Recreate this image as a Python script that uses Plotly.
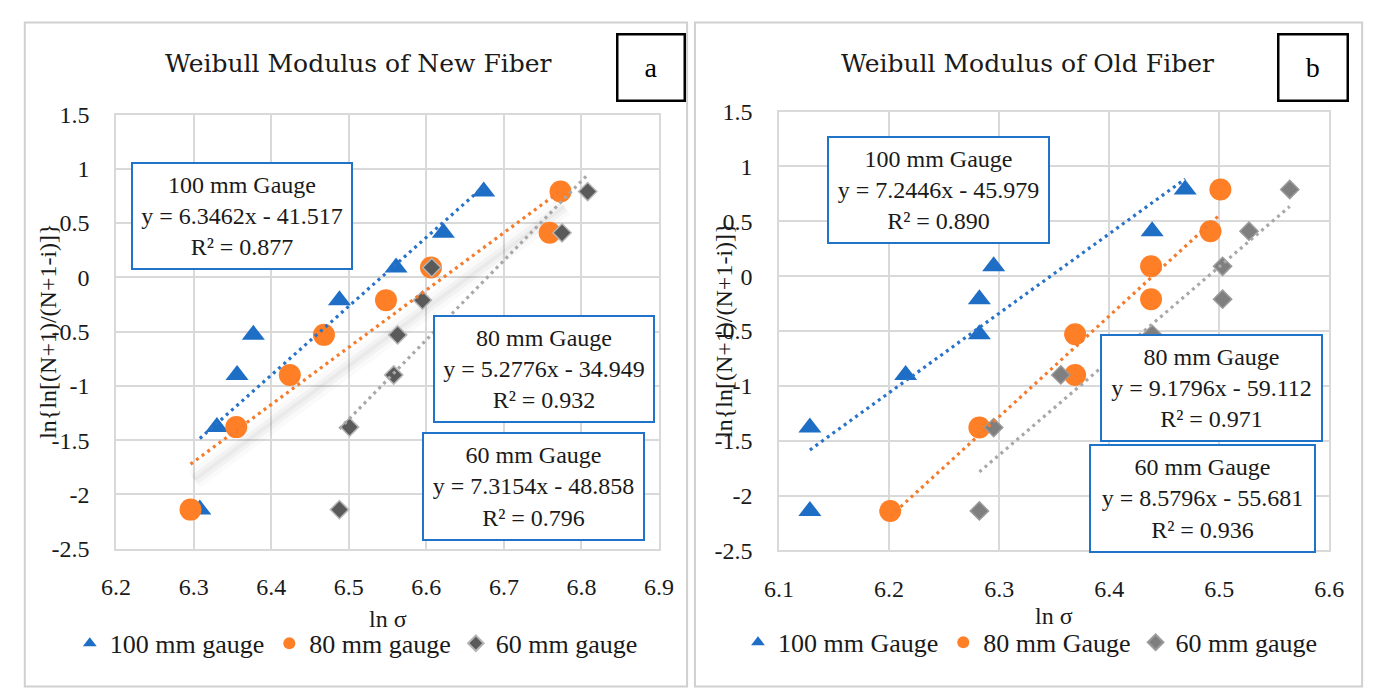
import plotly.graph_objects as go

# ---------------- data ----------------
RANK_Y = [-2.14, -1.38, -0.90, -0.53, -0.21, 0.09, 0.41, 0.79]

NEW_100_X = [6.308, 6.330, 6.356, 6.377, 6.488, 6.561, 6.622, 6.674]
NEW_80_X = [6.296, 6.355, 6.424, 6.468, 6.548, 6.606, 6.759, 6.773]
NEW_60_X = [6.488, 6.501, 6.558, 6.563, 6.595, 6.607, 6.775, 6.808]

OLD_100_X = [6.128, 6.128, 6.215, 6.282, 6.282, 6.295, 6.439, 6.469]
OLD_80_X = [6.201, 6.282, 6.369, 6.369, 6.438, 6.438, 6.492, 6.501]
OLD_60_X = [6.282, 6.295, 6.356, 6.439, 6.503, 6.503, 6.527, 6.564]

# trendline coefficients (slope, intercept, R²) as printed in the chart
NEW_FIT = {"100": (6.3462, -41.517, "0.877"), "80": (5.2776, -34.949, "0.932"), "60": (7.3154, -48.858, "0.796")}
OLD_FIT = {"100": (7.2446, -45.979, "0.890"), "80": (9.1796, -59.112, "0.971"), "60": (8.5796, -55.681, "0.936")}

NEW_NAMES = ["100 mm gauge", "80 mm gauge", "60 mm gauge"]
OLD_NAMES = ["100 mm Gauge", "80 mm Gauge", "60 mm gauge"]

Y_TICKS = [-2.5, -2, -1.5, -1, -0.5, 0, 0.5, 1, 1.5]
Y_TICK_TEXT = ["-2.5", "-2", "-1.5", "-1", "-0.5", "0", "0.5", "1", "1.5"]
NEW_X_TICKS = [6.2, 6.3, 6.4, 6.5, 6.6, 6.7, 6.8, 6.9]
NEW_X_TICK_TEXT = ["6.2", "6.3", "6.4", "6.5", "6.6", "6.7", "6.8", "6.9"]
OLD_X_TICKS = [6.1, 6.2, 6.3, 6.4, 6.5, 6.6]
OLD_X_TICK_TEXT = ["6.1", "6.2", "6.3", "6.4", "6.5", "6.6"]

TITLES = ["Weibull Modulus of New Fiber", "Weibull Modulus of Old Fiber"]
PANEL_TAGS = ["a", "b"]
X_TITLE = "ln σ"
Y_TITLE = "ln{ln[(N+1)/(N+1-i)]}"

# ---------------- styling ----------------
W, H = 1383, 689
BLUE = "#1E6EC6"
ORANGE = "#FF7F27"
BLUE_LINE = "#2873C9"
ORANGE_LINE = "#F57B2C"
GRAY_LINE = "#A8A8A8"
GRID = "#D9D9D9"
BOX = "#1F74C9"
TXT = "#1A1A1A"
SERIF = "Liberation Serif"


def px(x):
    return x / W


def py(y):
    return 1 - y / H


fig = go.Figure()


def add_panel(xs_list, fits, names, xa, ya, legend, diamond_color, diamond_line, shadow=False):
    keys = ["100", "80", "60"]
    if shadow:
        m, b, _ = fits["80"]
        x0, x1 = min(xs_list[1]) + 0.005, max(xs_list[1]) + 0.005
        for wdt, op in [(20, 0.02), (11, 0.03), (4, 0.03)]:
            fig.add_trace(go.Scatter(
                x=[x0, x1], y=[m * x0 + b - 0.17, m * x1 + b - 0.17], mode="lines",
                line=dict(color=f"rgba(0,0,0,{op})", width=wdt), showlegend=False,
                hoverinfo="skip", xaxis=xa, yaxis=ya))
    specs = [
        dict(symbol="triangle-up", size=20, color=BLUE, line=dict(width=0)),
        dict(symbol="circle", size=22, color=ORANGE, line=dict(width=0)),
        dict(symbol="diamond", size=14, color=diamond_color, line=dict(width=1.5, color=diamond_line)),
    ]
    for xs, nm, mk in zip(xs_list, names, specs):
        fig.add_trace(go.Scatter(x=xs, y=RANK_Y, mode="markers", name=nm, marker=mk,
                                 xaxis=xa, yaxis=ya, legend=legend))
    for xs, k, col in zip(xs_list, keys, [BLUE_LINE, ORANGE_LINE, GRAY_LINE]):
        m, b, _ = fits[k]
        x0, x1 = min(xs), max(xs)
        fig.add_trace(go.Scatter(x=[x0, x1], y=[m * x0 + b, m * x1 + b], mode="lines",
                                 line=dict(color=col, width=3.2, dash="3px,4px"),
                                 showlegend=False, hoverinfo="skip", xaxis=xa, yaxis=ya))


add_panel([NEW_100_X, NEW_80_X, NEW_60_X], NEW_FIT, NEW_NAMES, "x", "y", "legend",
          "#5A5A5A", "#B5B5B5", shadow=True)
add_panel([OLD_100_X, OLD_80_X, OLD_60_X], OLD_FIT, OLD_NAMES, "x2", "y2", "legend2",
          "#7F7F7F", "#9A9A9A")


def axis(domain, rng, tv, tt, anchor, standoff):
    return dict(domain=domain, range=rng, tickvals=tv, ticktext=tt, showgrid=True,
                gridcolor=GRID, gridwidth=1.5, showline=True, mirror=True, linecolor=GRID,
                linewidth=1.5, zeroline=False, ticks="", anchor=anchor,
                ticklabelstandoff=standoff, tickfont=dict(family=SERIF, size=24, color=TXT))


leg_common = dict(orientation="h", font=dict(family=SERIF, size=26, color=TXT),
                  itemsizing="constant", bgcolor="rgba(0,0,0,0)", yanchor="middle",
                  xanchor="left", itemwidth=30, tracegroupgap=0)

fig.update_layout(
    width=W, height=H, margin=dict(l=0, r=0, t=0, b=0),
    paper_bgcolor="white", plot_bgcolor="white",
    font=dict(family=SERIF, size=24, color=TXT),
    xaxis=axis([px(103.3), px(658.3)], [6.2, 6.9], NEW_X_TICKS, NEW_X_TICK_TEXT, "y", 16),
    yaxis=axis([py(556.7), py(105.5)], [-2.5, 1.5], Y_TICKS, Y_TICK_TEXT, "x", 20),
    xaxis2=axis([px(781), px(1343.5)], [6.1, 6.6], OLD_X_TICKS, OLD_X_TICK_TEXT, "y2", 16),
    yaxis2=axis([py(558.5), py(102.5)], [-2.5, 1.5], Y_TICKS, Y_TICK_TEXT, "x2", 20),
    legend=dict(x=px(56), y=py(655), **leg_common),
    legend2=dict(x=px(739), y=py(654), **leg_common),
    showlegend=True,
)

# panel frames (bottom edge lies outside the picture)
for x0, x1 in [(10, 687), (695, 1377)]:
    fig.add_shape(type="rect", xref="paper", yref="paper", x0=px(x0), x1=px(x1),
                  y0=py(700), y1=py(10), line=dict(color="#D0D0D0", width=2), layer="below")

# titles and a/b tags
for (cx, cy), t in zip([(351, 53), (1035, 53)], TITLES):
    fig.add_annotation(x=px(cx), y=py(cy), xref="paper", yref="paper", text=t, showarrow=False,
                       font=dict(family="DejaVu Serif", size=25, color=TXT),
                       xanchor="center", yanchor="middle")
for (x0, y0, x1, y1), t in zip([(615.3, 22.3, 684.3, 90), (1291, 23.3, 1361.7, 91)], PANEL_TAGS):
    fig.add_annotation(x=px((x0 + x1) / 2), y=py((y0 + y1) / 2), xref="paper", yref="paper",
                       text=t, showarrow=False, font=dict(family=SERIF, size=28, color="black"),
                       width=x1 - x0 - 4, height=y1 - y0 - 4, borderpad=0, bordercolor="black",
                       borderwidth=2.5, bgcolor="white", xanchor="center", yanchor="middle")

# axis titles
for cx, cy in [(380.8, 630), (1062, 627)]:
    fig.add_annotation(x=px(cx), y=py(cy), xref="paper", yref="paper", text=X_TITLE,
                       showarrow=False, font=dict(family=SERIF, size=24, color=TXT),
                       xanchor="center", yanchor="middle")
for cx, cy in [(33, 331), (724, 330)]:
    fig.add_annotation(x=px(cx), y=py(cy), xref="paper", yref="paper", text=Y_TITLE,
                       showarrow=False, textangle=-90, font=dict(family=SERIF, size=24, color=TXT),
                       xanchor="center", yanchor="middle")

# equation boxes
box_pos = [
    (NEW_FIT["100"], "100 mm Gauge", (122, 158, 342, 264)),
    (NEW_FIT["80"], "80 mm Gauge", (431, 317, 651, 423)),
    (NEW_FIT["60"], "60 mm Gauge", (420, 439, 641, 546)),
    (OLD_FIT["100"], "100 mm Gauge", (833, 131, 1054, 237)),
    (OLD_FIT["80"], "80 mm Gauge", (1113, 337, 1334, 443)),
    (OLD_FIT["60"], "60 mm Gauge", (1101, 451, 1326, 558)),
]
for (m, b, r2), label, (x0, y0, x1, y1) in box_pos:
    txt = f"{label}<br>y = {m:.4f}x - {abs(b):.3f}<br>R² = {r2}"
    fig.add_annotation(x=px((x0 + x1) / 2), y=py((y0 + y1) / 2), xref="paper", yref="paper",
                       text=txt, showarrow=False, align="center",
                       font=dict(family=SERIF, size=24, color=TXT),
                       width=x1 - x0 - 2, height=y1 - y0 - 2, borderpad=0, bordercolor=BOX,
                       borderwidth=2, bgcolor="white", xanchor="center", yanchor="middle")

fig.write_html("out.html",
               post_script="document.body.style.margin='0';document.body.style.overflow='hidden';")
